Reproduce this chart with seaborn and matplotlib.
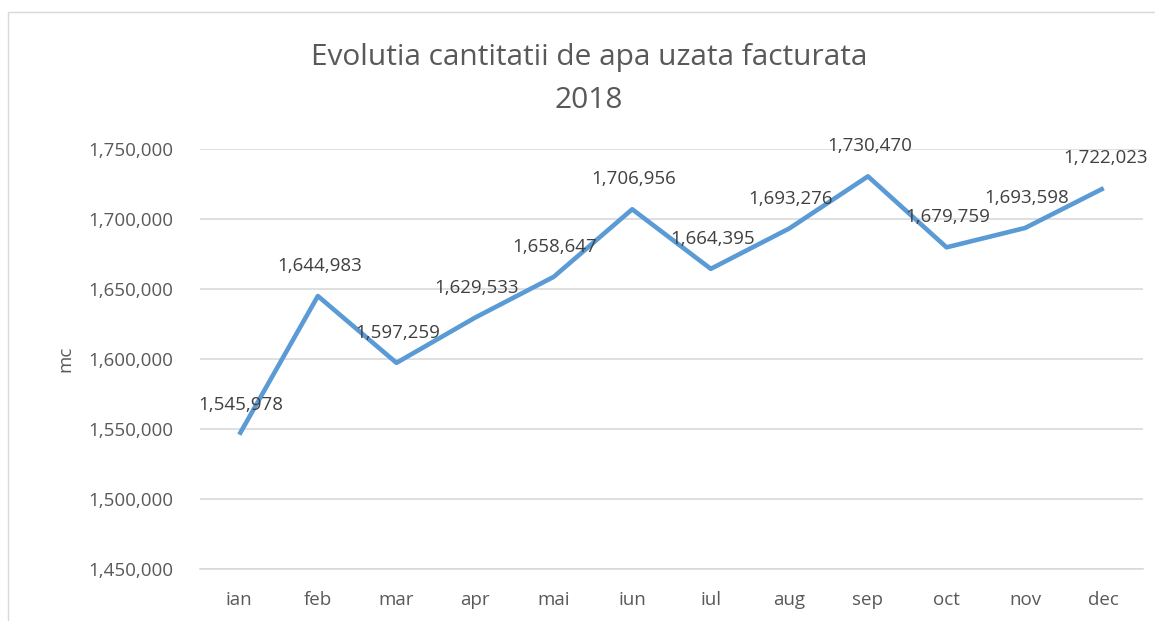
import numpy as np
import pandas as pd
import matplotlib.pyplot as plt
import seaborn as sns
from matplotlib.patches import Rectangle

luni = ['ian', 'feb', 'mar', 'apr', 'mai', 'iun', 'iul', 'aug', 'sep', 'oct', 'nov', 'dec']
cantitate = [1545978, 1644983, 1597259, 1629533, 1658647, 1706956,
             1664395, 1693276, 1730470, 1679759, 1693598, 1722023]
y_ticks = [1450000, 1500000, 1550000, 1600000, 1650000, 1700000, 1750000]

df = pd.DataFrame({'luna': luni, 'mc': cantitate})

sns.set_style('white')
plt.rcParams['font.family'] = ['Open Sans', 'DejaVu Sans']

fig = plt.figure(figsize=(11.55, 6.21), dpi=100)
ax = fig.add_axes([200 / 1155, 1 - 569 / 621, 943 / 1155, 420 / 621])

sns.lineplot(data=df, x='luna', y='mc', ax=ax, color='#5B9BD5', linewidth=3.3,
             sort=False, solid_capstyle='butt')

ax.set_xlim(-0.5, 11.5)
ax.set_ylim(1450000, 1750000)
ax.set_yticks(y_ticks)
ax.set_yticklabels([f'{v:,}' for v in y_ticks])
ax.grid(axis='y', color='#D9D9D9', linewidth=1.2)
ax.set_axisbelow(True)
for s in ['left', 'right', 'top']:
    ax.spines[s].set_visible(False)
ax.spines['bottom'].set_color('#D9D9D9')
ax.spines['bottom'].set_linewidth(1.2)
ax.tick_params(axis='x', length=0, pad=16, labelsize=13.5, labelcolor='#595959')
ax.tick_params(axis='y', length=0, pad=19, labelsize=13.5, labelcolor='#595959')
ax.set_xlabel('')
ax.set_ylabel('mc', fontsize=13.5, color='#595959', labelpad=10)

for i, v in enumerate(cantitate):
    ax.annotate(f'{v:,}', (i, v), xytext=(1, 21.5), textcoords='offset points',
                ha='center', va='center', fontsize=13.5, color='#404040')

fig.text(589 / 1155, 1 - 57 / 621, 'Evolutia cantitatii de apa uzata facturata',
         ha='center', va='center', fontsize=21.5, color='#595959')
fig.text(589 / 1155, 1 - 100 / 621, '2018',
         ha='center', va='center', fontsize=21.5, color='#595959')

fig.patches.append(Rectangle((8 / 1155, -0.1), 1.2, 1.1 - 12 / 621,
                             transform=fig.transFigure, fill=False,
                             edgecolor='#D9D9D9', linewidth=1))

fig.savefig('out.png', dpi=100)
